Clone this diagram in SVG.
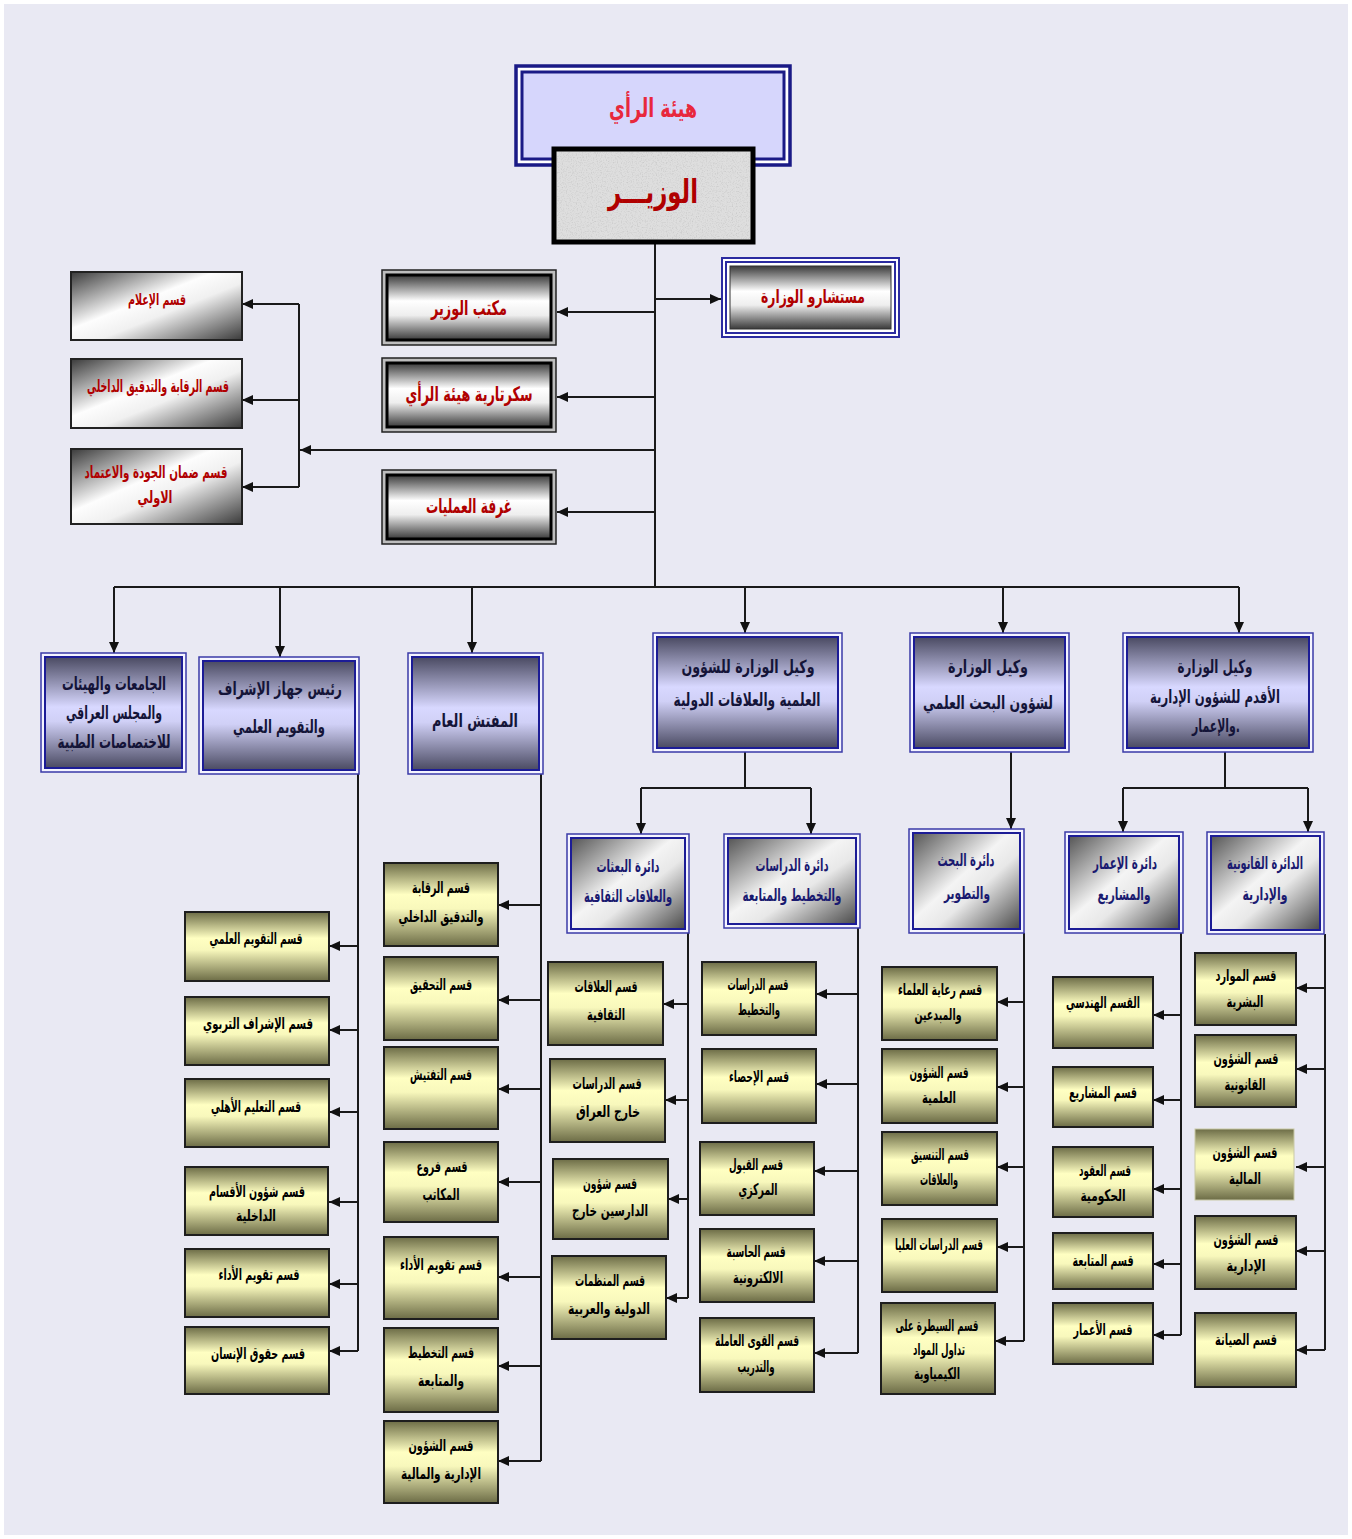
<svg xmlns="http://www.w3.org/2000/svg" width="1352" height="1539" viewBox="0 0 1352 1539">
<style>
.ln{stroke:#1a1a1a;stroke-width:2;fill:none}
.ar{stroke:#1a1a1a;stroke-width:2;fill:none;marker-end:url(#ah)}
.yb{fill:url(#gY);stroke:#1e1e1e;stroke-width:2}
.t{font-family:"DejaVu Sans",sans-serif;font-weight:bold;text-anchor:middle}
.yt{font-size:16px;fill:#000}
.bo{fill:#f4f4ff;stroke:#3a3aa8;stroke-width:1.5}
.bi{fill:url(#gB);stroke:#1c1c96;stroke-width:2}
.si{fill:url(#gS);stroke:#1c1c96;stroke-width:2}
.bt{font-size:18px;fill:#141438}
.st{font-size:17px;fill:#1a1a70}
.rt{fill:#b00000}
.mo{fill:#bdbdbd;stroke:#222;stroke-width:1.5}
.mi{fill:url(#gV);stroke:#000;stroke-width:3}
.lb{fill:url(#gD);stroke:#222;stroke-width:2}
</style>
<defs>
<marker id="ah" markerUnits="userSpaceOnUse" markerWidth="11" markerHeight="10" refX="11" refY="5" orient="auto">
<path d="M0,0 L11,5 L0,10 z" fill="#111"/>
</marker>
<linearGradient id="gY" x1="0" y1="0" x2="0" y2="1">
<stop offset="0" stop-color="#6c6c46"/><stop offset="0.38" stop-color="#ffffc2"/><stop offset="0.55" stop-color="#f8f8bc"/><stop offset="1" stop-color="#6c6c46"/>
</linearGradient>
<linearGradient id="gB" x1="0" y1="0" x2="0" y2="1">
<stop offset="0" stop-color="#4a4a62"/><stop offset="0.45" stop-color="#d8d8ff"/><stop offset="0.58" stop-color="#d0d0f6"/><stop offset="1" stop-color="#4a4a62"/>
</linearGradient>
<linearGradient id="gS" x1="0" y1="0" x2="1" y2="1">
<stop offset="0" stop-color="#555"/><stop offset="0.45" stop-color="#f4f4f4"/><stop offset="0.6" stop-color="#e8e8e8"/><stop offset="1" stop-color="#4a4a4a"/>
</linearGradient>
<linearGradient id="gD" x1="0" y1="0" x2="1" y2="1">
<stop offset="0" stop-color="#3a3a3a"/><stop offset="0.42" stop-color="#fdfdfd"/><stop offset="0.58" stop-color="#f0f0f0"/><stop offset="1" stop-color="#3a3a3a"/>
</linearGradient>
<linearGradient id="gV" x1="0" y1="0" x2="0" y2="1">
<stop offset="0" stop-color="#3a3a3a"/><stop offset="0.4" stop-color="#ffffff"/><stop offset="0.62" stop-color="#eeeeee"/><stop offset="1" stop-color="#3a3a3a"/>
</linearGradient>
<filter id="grain" x="0" y="0" width="1" height="1">
<feTurbulence type="fractalNoise" baseFrequency="0.8" numOctaves="2" seed="4"/>
<feColorMatrix type="matrix" values="0 0 0 0 0.45  0 0 0 0 0.45  0 0 0 0 0.45  1.6 0 0 0 -0.75"/>
</filter>
</defs>
<rect x="0" y="0" width="1352" height="1539" fill="#ffffff"/>
<rect x="4" y="4" width="1344" height="1531" fill="#e9e9f3"/>

<g id="connectors">
<path class="ln" d="M655,244 V587"/>
<path class="ar" d="M655,299 H721"/>
<path class="ar" d="M655,312 H557"/>
<path class="ar" d="M655,397 H557"/>
<path class="ar" d="M655,450 H300"/>
<path class="ar" d="M655,512 H557"/>
<path class="ln" d="M299,304 V487"/>
<path class="ar" d="M299,304 H242"/>
<path class="ar" d="M299,400 H242"/>
<path class="ar" d="M299,487 H242"/>
<path class="ln" d="M114,587 H1239"/>
<path class="ar" d="M114,587 V653"/>
<path class="ar" d="M280,587 V657"/>
<path class="ar" d="M472,587 V653"/>
<path class="ar" d="M745,587 V633"/>
<path class="ar" d="M1003,587 V633"/>
<path class="ar" d="M1239,587 V633"/>
<path class="ln" d="M745,752 V788 M641,788 H811"/>
<path class="ar" d="M641,788 V834"/>
<path class="ar" d="M811,788 V834"/>
<path class="ar" d="M1011,752 V829"/>
<path class="ln" d="M1225,752 V788 M1123,788 H1308"/>
<path class="ar" d="M1123,788 V832"/>
<path class="ar" d="M1308,788 V832"/>
<path class="ln" d="M358,774 V1351"/>
<path class="ar" d="M358,946 H329"/><path class="ar" d="M358,1030 H329"/><path class="ar" d="M358,1112 H329"/><path class="ar" d="M358,1202 H329"/><path class="ar" d="M358,1284 H329"/><path class="ar" d="M358,1351 H329"/>
<path class="ln" d="M541,774 V1461"/>
<path class="ar" d="M541,905 H498"/><path class="ar" d="M541,1000 H498"/><path class="ar" d="M541,1089 H498"/><path class="ar" d="M541,1182 H498"/><path class="ar" d="M541,1277 H498"/><path class="ar" d="M541,1366 H498"/><path class="ar" d="M541,1461 H498"/>
<path class="ln" d="M688,933 V1298"/>
<path class="ar" d="M688,1004 H663"/><path class="ar" d="M688,1100 H665"/><path class="ar" d="M688,1199 H668"/><path class="ar" d="M688,1298 H666"/>
<path class="ln" d="M858,928 V1353"/>
<path class="ar" d="M858,994 H816"/><path class="ar" d="M858,1084 H816"/><path class="ar" d="M858,1171 H814"/><path class="ar" d="M858,1261 H814"/><path class="ar" d="M858,1353 H814"/>
<path class="ln" d="M1024,933 V1341"/>
<path class="ar" d="M1024,1002 H997"/><path class="ar" d="M1024,1087 H997"/><path class="ar" d="M1024,1167 H997"/><path class="ar" d="M1024,1247 H997"/><path class="ar" d="M1024,1341 H995"/>
<path class="ln" d="M1181,933 V1335"/>
<path class="ar" d="M1181,1015 H1153"/><path class="ar" d="M1181,1100 H1153"/><path class="ar" d="M1181,1189 H1153"/><path class="ar" d="M1181,1264 H1153"/><path class="ar" d="M1181,1335 H1153"/>
<path class="ln" d="M1325,934 V1350"/>
<path class="ar" d="M1325,988 H1296"/><path class="ar" d="M1325,1069 H1296"/><path class="ar" d="M1325,1167 H1296"/><path class="ar" d="M1325,1251 H1296"/><path class="ar" d="M1325,1350 H1296"/>
</g>

<g id="n-hayat">
<rect x="516" y="66" width="274" height="99" fill="#ffffff" stroke="#1a1a86" stroke-width="3.5"/>
<rect x="522" y="72" width="262" height="87" fill="#d6d6fc" stroke="#1a1a86" stroke-width="3"/>
<text class="t" x="653" y="117" font-size="26" fill="#e8283c" textLength="88" lengthAdjust="spacingAndGlyphs">هيئة الرأي</text>
</g>
<g id="n-wazir">
<rect x="554" y="149" width="199" height="93" fill="#dedede" stroke="#000" stroke-width="5"/>
<rect x="557" y="152" width="193" height="87" fill="#fff" filter="url(#grain)" opacity="0.7"/>
<text class="t" x="653" y="203" font-size="33" fill="#b00000" textLength="90" lengthAdjust="spacingAndGlyphs">الوزيـــر</text>
</g>
<g id="n-mustashar">
<rect x="722" y="258" width="177" height="79" fill="#fff" stroke="#2b2ba0" stroke-width="2"/>
<rect x="726" y="262" width="169" height="71" fill="none" stroke="#2b2ba0" stroke-width="2"/>
<rect x="730" y="266" width="161" height="63" fill="url(#gV)" stroke="#333" stroke-width="1"/>
<text class="t rt" x="813" y="303" font-size="19" textLength="104" lengthAdjust="spacingAndGlyphs">مستشارو الوزارة</text>
</g>
<g id="n-maktab">
<rect class="mo" x="382" y="270" width="174" height="75"/>
<rect class="mi" x="387" y="275" width="164" height="65"/>
<text class="t rt" x="469" y="315" font-size="20" textLength="76" lengthAdjust="spacingAndGlyphs">مكتب الوزير</text>
</g>
<g id="n-sekretaria">
<rect class="mo" x="382" y="358" width="174" height="74"/>
<rect class="mi" x="387" y="363" width="164" height="64"/>
<text class="t rt" x="469" y="401" font-size="20" textLength="127" lengthAdjust="spacingAndGlyphs">سكرتارية هيئة الرأي</text>
</g>
<g id="n-ghurfa">
<rect class="mo" x="382" y="470" width="174" height="74"/>
<rect class="mi" x="387" y="475" width="164" height="64"/>
<text class="t rt" x="469" y="513" font-size="20" textLength="86" lengthAdjust="spacingAndGlyphs">غرفة العمليات</text>
</g>
<g id="n-ilam">
<rect class="lb" x="71" y="272" width="171" height="68"/>
<text class="t rt" x="157" y="305" font-size="16" textLength="58" lengthAdjust="spacingAndGlyphs">قسم الإعلام</text>
</g>
<g id="n-riqaba-top">
<rect class="lb" x="71" y="359" width="171" height="69"/>
<text class="t rt" x="158" y="392" font-size="17" textLength="142" lengthAdjust="spacingAndGlyphs">قسم الرقابة والتدقيق الداخلي</text>
</g>
<g id="n-daman">
<rect class="lb" x="71" y="449" width="171" height="75"/>
<text class="t rt" x="156" y="478" font-size="17" textLength="143" lengthAdjust="spacingAndGlyphs">قسم ضمان الجودة والاعتماد</text>
<text class="t rt" x="155" y="503" font-size="17" textLength="35" lengthAdjust="spacingAndGlyphs">الاولي</text>
</g>

<g id="n-jamiat">
<rect class="bo" x="41" y="653" width="145" height="119"/>
<rect class="bi" x="45" y="657" width="137" height="111"/>
<text class="t bt" x="114" y="690" textLength="104" lengthAdjust="spacingAndGlyphs">الجامعات والهيئات</text>
<text class="t bt" x="114" y="719" textLength="96" lengthAdjust="spacingAndGlyphs">والمجلس العراقي</text>
<text class="t bt" x="114" y="748" textLength="113" lengthAdjust="spacingAndGlyphs">للاختصاصات الطبية</text>
</g>
<g id="n-raees">
<rect class="bo" x="199" y="657" width="160" height="117"/>
<rect class="bi" x="203" y="661" width="152" height="109"/>
<text class="t bt" x="280" y="695" font-size="19" textLength="124" lengthAdjust="spacingAndGlyphs">رئيس جهاز الإشراف</text>
<text class="t bt" x="279" y="733" font-size="19" textLength="92" lengthAdjust="spacingAndGlyphs">والتقويم العلمي</text>
</g>
<g id="n-mufattish">
<rect class="bo" x="408" y="653" width="135" height="121"/>
<rect class="bi" x="412" y="657" width="127" height="113"/>
<text class="t bt" x="475" y="727" font-size="19" textLength="86" lengthAdjust="spacingAndGlyphs">المفتش العام</text>
</g>
<g id="n-wakil-ilmi">
<rect class="bo" x="653" y="633" width="189" height="119"/>
<rect class="bi" x="657" y="637" width="181" height="111"/>
<text class="t bt" x="748" y="673" textLength="133" lengthAdjust="spacingAndGlyphs">وكيل الوزارة للشؤون</text>
<text class="t bt" x="747" y="706" textLength="147" lengthAdjust="spacingAndGlyphs">العلمية والعلاقات الدولية</text>
</g>
<g id="n-wakil-bahth">
<rect class="bo" x="910" y="633" width="159" height="119"/>
<rect class="bi" x="914" y="637" width="151" height="111"/>
<text class="t bt" x="988" y="673" textLength="80" lengthAdjust="spacingAndGlyphs">وكيل الوزارة</text>
<text class="t bt" x="988" y="709" textLength="130" lengthAdjust="spacingAndGlyphs">لشؤون البحث العلمي</text>
</g>
<g id="n-wakil-aqdam">
<rect class="bo" x="1123" y="633" width="190" height="119"/>
<rect class="bi" x="1127" y="637" width="182" height="111"/>
<text class="t bt" x="1215" y="673" textLength="75" lengthAdjust="spacingAndGlyphs">وكيل الوزارة</text>
<text class="t bt" x="1215" y="703" textLength="130" lengthAdjust="spacingAndGlyphs">الأقدم للشؤون الإدارية</text>
<text class="t bt" x="1216" y="732" textLength="48" lengthAdjust="spacingAndGlyphs">والإعمار.</text>
</g>

<g id="n-buthat">
<rect class="bo" x="567" y="834" width="122" height="99"/>
<rect class="si" x="571" y="838" width="114" height="91"/>
<text class="t st" x="628" y="872" textLength="63" lengthAdjust="spacingAndGlyphs">دائرة البعثات</text>
<text class="t st" x="628" y="902" textLength="88" lengthAdjust="spacingAndGlyphs">والعلاقات الثقافية</text>
</g>
<g id="n-dirasat">
<rect class="bo" x="724" y="834" width="136" height="94"/>
<rect class="si" x="728" y="838" width="128" height="86"/>
<text class="t st" x="792" y="871" textLength="73" lengthAdjust="spacingAndGlyphs">دائرة الدراسات</text>
<text class="t st" x="792" y="901" textLength="99" lengthAdjust="spacingAndGlyphs">والتخطيط والمتابعة</text>
</g>
<g id="n-bahth">
<rect class="bo" x="909" y="829" width="115" height="104"/>
<rect class="si" x="913" y="833" width="107" height="96"/>
<text class="t st" x="966" y="866" textLength="57" lengthAdjust="spacingAndGlyphs">دائرة البحث</text>
<text class="t st" x="967" y="899" textLength="46" lengthAdjust="spacingAndGlyphs">والتطوير</text>
</g>
<g id="n-imar">
<rect class="bo" x="1065" y="832" width="118" height="101"/>
<rect class="si" x="1069" y="836" width="110" height="93"/>
<text class="t st" x="1125" y="869" textLength="64" lengthAdjust="spacingAndGlyphs">دائرة الإعمار</text>
<text class="t st" x="1124" y="900" textLength="53" lengthAdjust="spacingAndGlyphs">والمشاريع</text>
</g>
<g id="n-qanuniya">
<rect class="bo" x="1207" y="832" width="117" height="102"/>
<rect class="si" x="1211" y="836" width="109" height="94"/>
<text class="t st" x="1265" y="869" font-size="13" textLength="76" lengthAdjust="spacingAndGlyphs">الدائرة القانونية</text>
<text class="t st" x="1265" y="900" textLength="45" lengthAdjust="spacingAndGlyphs">والإدارية</text>
</g>

<g id="n-a1"><rect class="yb" x="185" y="912" width="144" height="69"/><text class="t yt" x="256" y="944" textLength="93" lengthAdjust="spacingAndGlyphs">قسم التقويم العلمي</text></g>
<g id="n-a2"><rect class="yb" x="185" y="997" width="144" height="68"/><text class="t yt" x="258" y="1029" textLength="110" lengthAdjust="spacingAndGlyphs">قسم الإشراف التربوي</text></g>
<g id="n-a3"><rect class="yb" x="185" y="1079" width="144" height="68"/><text class="t yt" x="256" y="1112" textLength="90" lengthAdjust="spacingAndGlyphs">قسم التعليم الأهلي</text></g>
<g id="n-a4"><rect class="yb" x="185" y="1167" width="143" height="68"/><text class="t yt" x="257" y="1197" textLength="96" lengthAdjust="spacingAndGlyphs">قسم شؤون الأقسام</text><text class="t yt" x="256" y="1221" textLength="40" lengthAdjust="spacingAndGlyphs">الداخلية</text></g>
<g id="n-a5"><rect class="yb" x="185" y="1249" width="144" height="68"/><text class="t yt" x="259" y="1280" textLength="81" lengthAdjust="spacingAndGlyphs">قسم تقويم الأداء</text></g>
<g id="n-a6"><rect class="yb" x="185" y="1327" width="144" height="67"/><text class="t yt" x="258" y="1359" textLength="94" lengthAdjust="spacingAndGlyphs">قسم حقوق الإنسان</text></g>

<g id="n-b1"><rect class="yb" x="384" y="863" width="114" height="83"/><text class="t yt" x="441" y="893" textLength="58" lengthAdjust="spacingAndGlyphs">قسم الرقابة</text><text class="t yt" x="441" y="922" textLength="85" lengthAdjust="spacingAndGlyphs">والتدقيق الداخلي</text></g>
<g id="n-b2"><rect class="yb" x="384" y="957" width="114" height="83"/><text class="t yt" x="441" y="990" textLength="62" lengthAdjust="spacingAndGlyphs">قسم التحقيق</text></g>
<g id="n-b3"><rect class="yb" x="384" y="1047" width="114" height="82"/><text class="t yt" x="441" y="1080" textLength="62" lengthAdjust="spacingAndGlyphs">قسم التفتيش</text></g>
<g id="n-b4"><rect class="yb" x="384" y="1142" width="114" height="80"/><text class="t yt" x="442" y="1172" textLength="51" lengthAdjust="spacingAndGlyphs">قسم فروع</text><text class="t yt" x="441" y="1200" textLength="37" lengthAdjust="spacingAndGlyphs">المكاتب</text></g>
<g id="n-b5"><rect class="yb" x="384" y="1237" width="114" height="82"/><text class="t yt" x="441" y="1270" textLength="82" lengthAdjust="spacingAndGlyphs">قسم تقويم الأداء</text></g>
<g id="n-b6"><rect class="yb" x="384" y="1328" width="114" height="84"/><text class="t yt" x="441" y="1358" textLength="66" lengthAdjust="spacingAndGlyphs">قسم التخطيط</text><text class="t yt" x="441" y="1386" textLength="46" lengthAdjust="spacingAndGlyphs">والمتابعة</text></g>
<g id="n-b7"><rect class="yb" x="384" y="1421" width="114" height="82"/><text class="t yt" x="441" y="1451" textLength="65" lengthAdjust="spacingAndGlyphs">قسم الشؤون</text><text class="t yt" x="441" y="1479" textLength="80" lengthAdjust="spacingAndGlyphs">الإدارية والمالية</text></g>

<g id="n-c1"><rect class="yb" x="548" y="962" width="115" height="83"/><text class="t yt" x="606" y="992" textLength="63" lengthAdjust="spacingAndGlyphs">قسم العلاقات</text><text class="t yt" x="606" y="1020" textLength="38" lengthAdjust="spacingAndGlyphs">الثقافية</text></g>
<g id="n-c2"><rect class="yb" x="550" y="1059" width="115" height="83"/><text class="t yt" x="607" y="1089" textLength="69" lengthAdjust="spacingAndGlyphs">قسم الدراسات</text><text class="t yt" x="608" y="1117" textLength="64" lengthAdjust="spacingAndGlyphs">خارج العراق</text></g>
<g id="n-c3"><rect class="yb" x="553" y="1159" width="115" height="80"/><text class="t yt" x="610" y="1189" textLength="54" lengthAdjust="spacingAndGlyphs">قسم شؤون</text><text class="t yt" x="610" y="1216" textLength="76" lengthAdjust="spacingAndGlyphs">الدارسين خارج</text></g>
<g id="n-c4"><rect class="yb" x="552" y="1256" width="114" height="83"/><text class="t yt" x="610" y="1286" textLength="70" lengthAdjust="spacingAndGlyphs">قسم المنظمات</text><text class="t yt" x="609" y="1314" textLength="82" lengthAdjust="spacingAndGlyphs">الدولية والعربية</text></g>

<g id="n-d1"><rect class="yb" x="702" y="962" width="114" height="73"/><text class="t yt" x="758" y="990" textLength="61" lengthAdjust="spacingAndGlyphs">قسم الدراسات</text><text class="t yt" x="759" y="1015" textLength="42" lengthAdjust="spacingAndGlyphs">والتخطيط</text></g>
<g id="n-d2"><rect class="yb" x="702" y="1049" width="114" height="74"/><text class="t yt" x="759" y="1082" textLength="60" lengthAdjust="spacingAndGlyphs">قسم الإحصاء</text></g>
<g id="n-d3"><rect class="yb" x="700" y="1142" width="114" height="73"/><text class="t yt" x="756" y="1170" textLength="54" lengthAdjust="spacingAndGlyphs">قسم القبول</text><text class="t yt" x="758" y="1195" textLength="39" lengthAdjust="spacingAndGlyphs">المركزي</text></g>
<g id="n-d4"><rect class="yb" x="700" y="1229" width="114" height="73"/><text class="t yt" x="756" y="1257" textLength="59" lengthAdjust="spacingAndGlyphs">قسم الحاسبة</text><text class="t yt" x="758" y="1283" textLength="50" lengthAdjust="spacingAndGlyphs">الالكترونية</text></g>
<g id="n-d5"><rect class="yb" x="700" y="1318" width="114" height="74"/><text class="t yt" x="757" y="1346" textLength="84" lengthAdjust="spacingAndGlyphs">قسم القوى العاملة</text><text class="t yt" x="756" y="1372" textLength="37" lengthAdjust="spacingAndGlyphs">والتدريب</text></g>

<g id="n-e1"><rect class="yb" x="882" y="967" width="115" height="73"/><text class="t yt" x="940" y="995" textLength="84" lengthAdjust="spacingAndGlyphs">قسم رعاية العلماء</text><text class="t yt" x="938" y="1020" textLength="47" lengthAdjust="spacingAndGlyphs">والمبدعين</text></g>
<g id="n-e2"><rect class="yb" x="882" y="1049" width="115" height="74"/><text class="t yt" x="939" y="1078" textLength="59" lengthAdjust="spacingAndGlyphs">قسم الشؤون</text><text class="t yt" x="939" y="1103" textLength="34" lengthAdjust="spacingAndGlyphs">العلمية</text></g>
<g id="n-e3"><rect class="yb" x="882" y="1132" width="115" height="73"/><text class="t yt" x="940" y="1160" textLength="58" lengthAdjust="spacingAndGlyphs">قسم التنسيق</text><text class="t yt" x="939" y="1185" textLength="38" lengthAdjust="spacingAndGlyphs">والعلاقات</text></g>
<g id="n-e4"><rect class="yb" x="882" y="1219" width="115" height="73"/><text class="t yt" x="939" y="1250" textLength="88" lengthAdjust="spacingAndGlyphs">قسم الدراسات العليا</text></g>
<g id="n-e5"><rect class="yb" x="881" y="1303" width="114" height="91"/><text class="t yt" x="937" y="1331" textLength="83" lengthAdjust="spacingAndGlyphs">قسم السيطرة على</text><text class="t yt" x="939" y="1355" textLength="52" lengthAdjust="spacingAndGlyphs">تداول المواد</text><text class="t yt" x="937" y="1379" textLength="46" lengthAdjust="spacingAndGlyphs">الكيمياوية</text></g>

<g id="n-f1"><rect class="yb" x="1053" y="977" width="100" height="71"/><text class="t yt" x="1103" y="1008" textLength="74" lengthAdjust="spacingAndGlyphs">القسم الهندسي</text></g>
<g id="n-f2"><rect class="yb" x="1053" y="1067" width="100" height="60"/><text class="t yt" x="1103" y="1098" textLength="68" lengthAdjust="spacingAndGlyphs">قسم المشاريع</text></g>
<g id="n-f3"><rect class="yb" x="1053" y="1147" width="100" height="70"/><text class="t yt" x="1105" y="1176" textLength="52" lengthAdjust="spacingAndGlyphs">قسم العقود</text><text class="t yt" x="1103" y="1201" textLength="45" lengthAdjust="spacingAndGlyphs">الحكومية</text></g>
<g id="n-f4"><rect class="yb" x="1053" y="1233" width="100" height="56"/><text class="t yt" x="1103" y="1266" textLength="61" lengthAdjust="spacingAndGlyphs">قسم المتابعة</text></g>
<g id="n-f5"><rect class="yb" x="1053" y="1303" width="100" height="61"/><text class="t yt" x="1103" y="1335" textLength="59" lengthAdjust="spacingAndGlyphs">قسم الأعمار</text></g>

<g id="n-g1"><rect class="yb" x="1195" y="953" width="101" height="72"/><text class="t yt" x="1246" y="981" textLength="61" lengthAdjust="spacingAndGlyphs">قسم الموارد</text><text class="t yt" x="1245" y="1007" textLength="37" lengthAdjust="spacingAndGlyphs">البشرية</text></g>
<g id="n-g2"><rect class="yb" x="1195" y="1035" width="101" height="72"/><text class="t yt" x="1246" y="1064" textLength="65" lengthAdjust="spacingAndGlyphs">قسم الشؤون</text><text class="t yt" x="1245" y="1090" textLength="41" lengthAdjust="spacingAndGlyphs">القانونية</text></g>
<g id="n-g3"><rect x="1195" y="1129" width="99" height="71" fill="url(#gY)" stroke="#c9c9a6" stroke-width="1"/><text class="t yt" x="1245" y="1158" textLength="65" lengthAdjust="spacingAndGlyphs">قسم  الشؤون</text><text class="t yt" x="1245" y="1184" textLength="32" lengthAdjust="spacingAndGlyphs">المالية</text></g>
<g id="n-g4"><rect class="yb" x="1195" y="1216" width="101" height="73"/><text class="t yt" x="1246" y="1245" textLength="65" lengthAdjust="spacingAndGlyphs">قسم الشؤون</text><text class="t yt" x="1246" y="1271" textLength="39" lengthAdjust="spacingAndGlyphs">الإدارية</text></g>
<g id="n-g5"><rect class="yb" x="1195" y="1313" width="101" height="74"/><text class="t yt" x="1246" y="1345" textLength="62" lengthAdjust="spacingAndGlyphs">قسم الصيانة</text></g>
</svg>
